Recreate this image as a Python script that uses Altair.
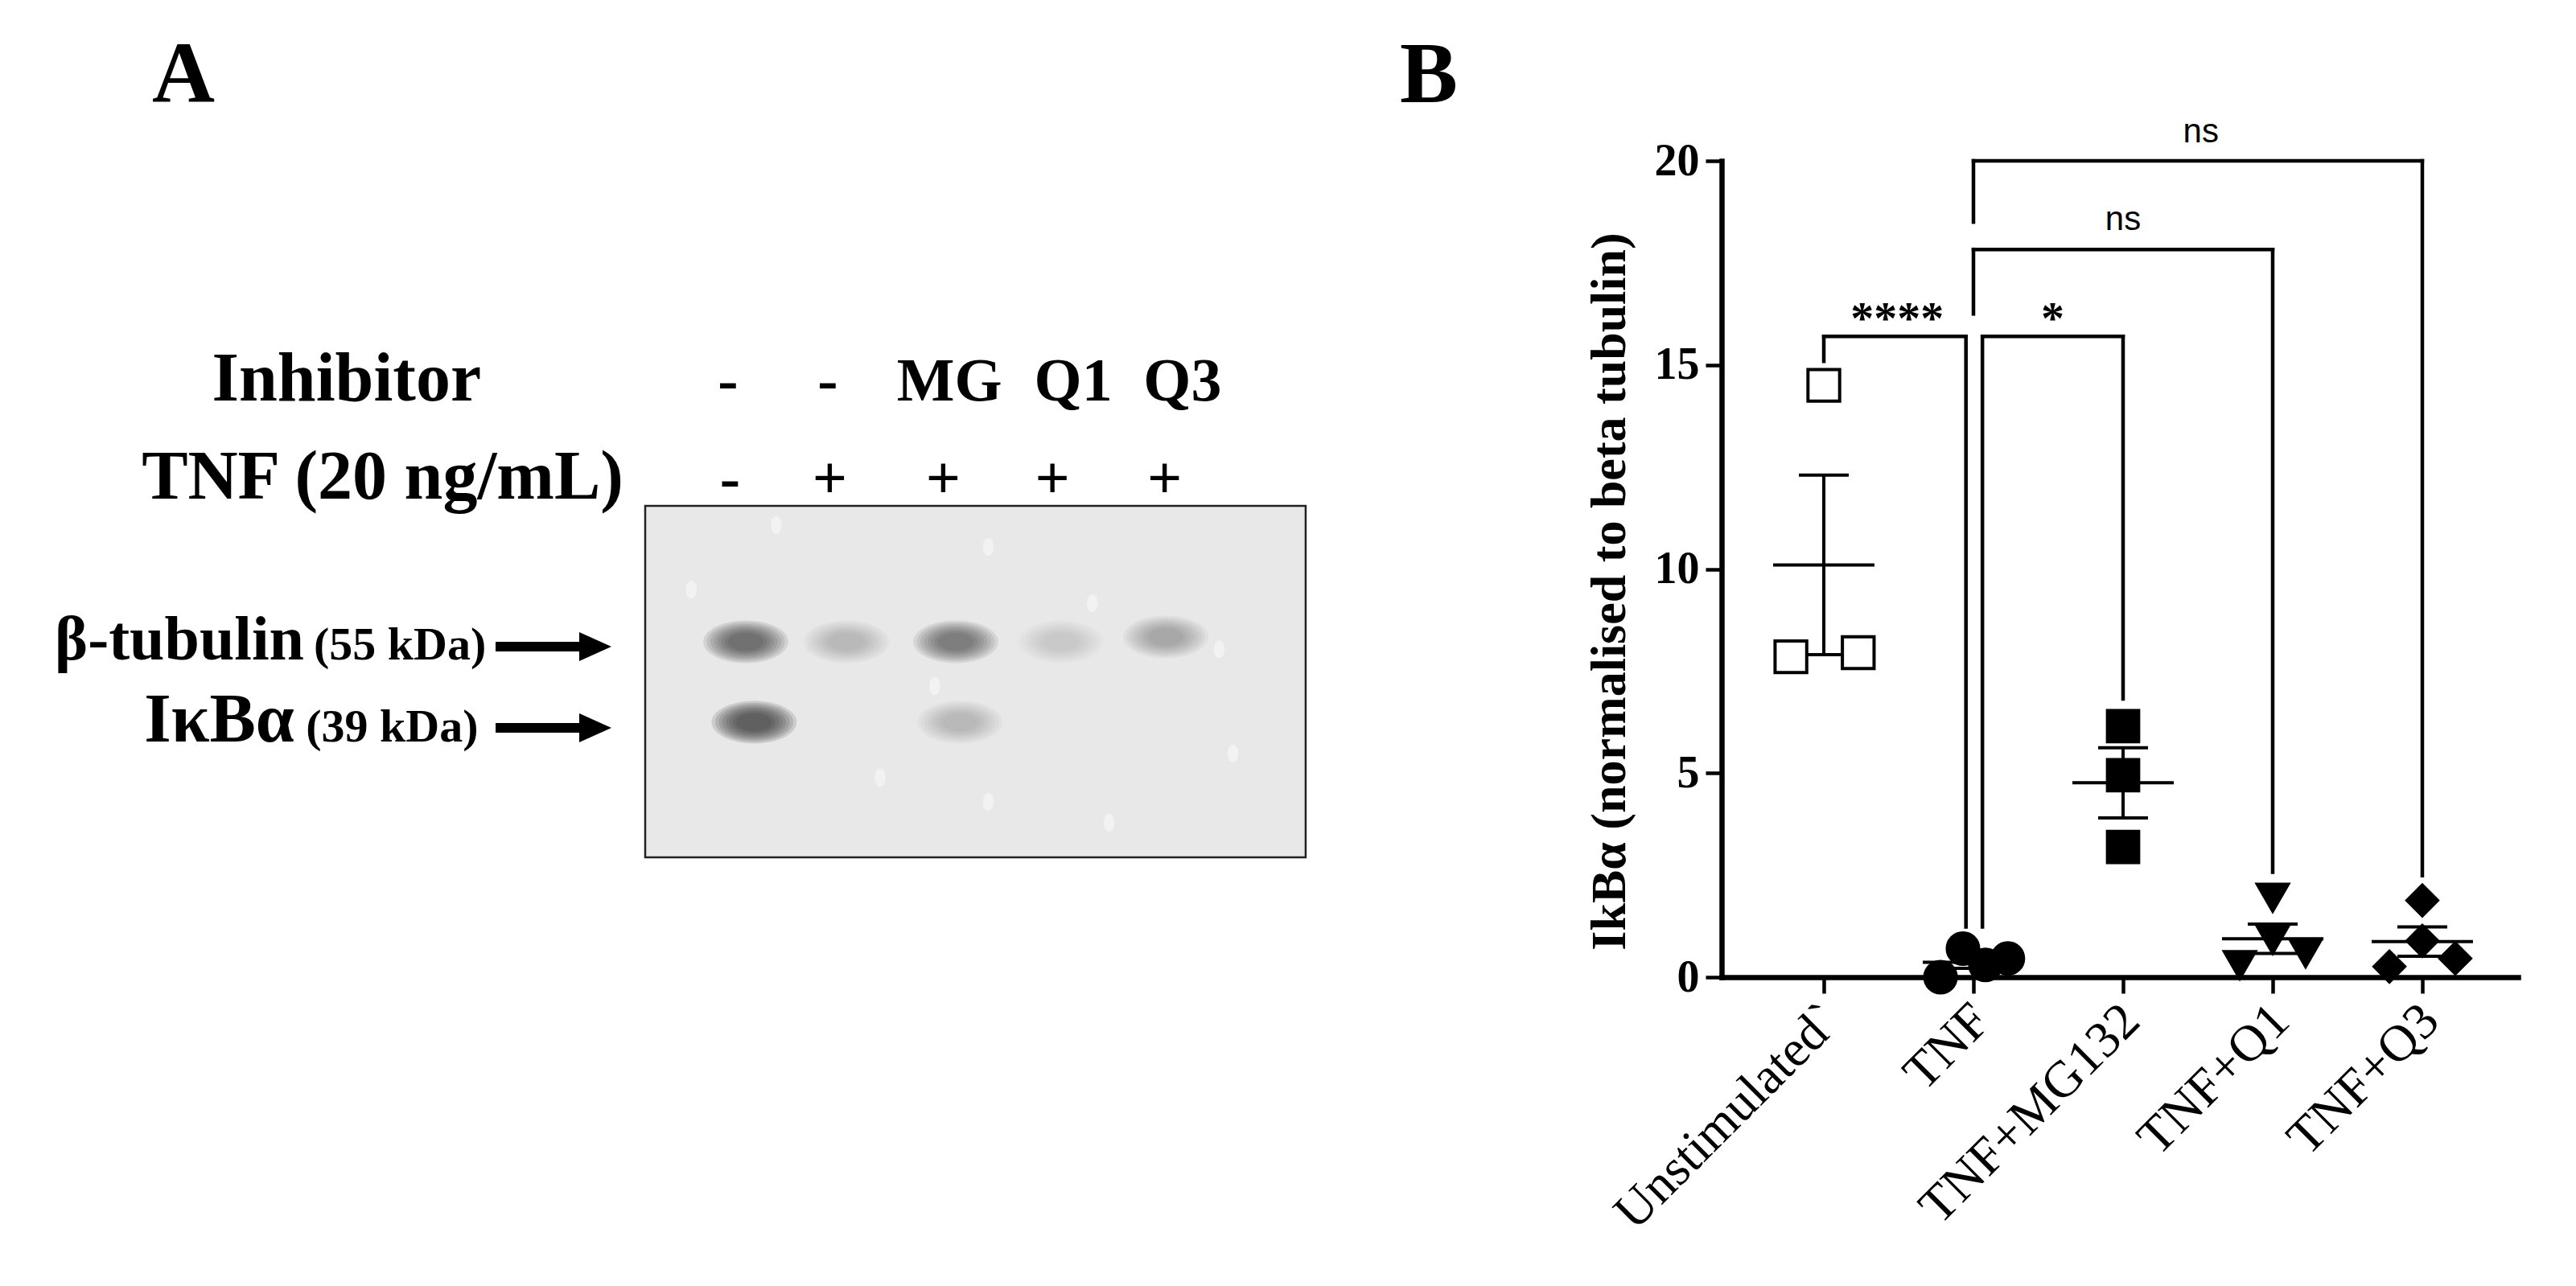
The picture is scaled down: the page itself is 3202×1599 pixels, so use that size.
import json
import altair as alt
import pandas as pd

SERIF = "Liberation Serif"
SANS = "Liberation Sans"

# ======================= Panel B data =======================
groups = ["Unstimulated`", "TNF", "TNF+MG132", "TNF+Q1", "TNF+Q3"]
unstim_vals = [14.5, 7.85, 7.95]
tnf_vals = [0.0, 0.70, 0.30, 0.46]
mg132_vals = [6.15, 4.95, 3.19]
q1_vals = [1.95, 0.92, 0.59, 0.30]
q3_vals = [1.88, 0.89, 0.26, 0.46]
# horizontal spread of the dots inside each column (in column units)
unstim_spread = [0.0, -0.22, 0.23]
tnf_spread = [-0.22, -0.07, 0.08, 0.23]
mg132_spread = [0.0, 0.0, 0.0]
q1_spread = [0.0, 0.0, 0.22, -0.22]
q3_spread = [0.0, 0.0, -0.22, 0.22]
y_ticks = [0, 5, 10, 15, 20]

# significance brackets
br_left = [0.0, 1.06, 1.0, 1.0]
br_right = [0.95, 2.0, 3.0, 4.0]
br_level = [15.7, 15.7, 17.83, 20.0]
br_left_end = [15.09, 1.23, 16.25, 18.5]
br_right_end = [1.23, 6.82, 2.57, 2.49]
br_label = ["****", "*", "ns", "ns"]
br_label_x = [0.49, 1.53, 2.0, 2.52]
br_label_y = [15.76, 15.76, 18.31, 20.46]

# ======================= Panel A data =======================
lane_inhibitor = ["-", "-", "MG", "Q1", "Q3"]
lane_inhibitor_x = [0.83, 1.78, 2.94, 4.12, 5.16]
lane_tnf = ["-", "+", "+", "+", "+"]
lane_tnf_x = [0.85, 1.80, 2.88, 3.92, 4.99]
row_heads = ["Inhibitor", "TNF (20 ng/mL)"]
row_heads_x = [-1.52, -0.165]
row_heads_y = [-2.0, -0.78]
lane_row_y = [-2.0, -0.78]

band_lane = [1.0, 1.96, 3.0, 4.0, 5.0, 1.08, 3.04]
band_row = [1.0, 1.0, 1.0, 1.0, 0.94, 2.0, 2.0]
band_dark = [0.62, 0.26, 0.55, 0.16, 0.33, 0.72, 0.24]

speck_lane = [1.29, 3.31, 0.48, 4.30, 5.51, 2.80, 5.64, 3.31, 4.46, 2.28]
speck_row = [-0.45, -0.18, 0.35, 0.52, 1.09, 1.55, 2.39, 2.99, 3.25, 2.69]

blot_lane = [0.042, 6.333]
blot_row = [-0.69, 3.68]

protein_names = ["β-tubulin", "IκBα"]
protein_x = [-3.207, -3.30]
protein_y = [1.22, 2.24]
kda_labels = ["(55 kDa)", "(39 kDa)"]
kda_x = [-3.115, -3.19]
arrow_row = [1.06, 2.07]
arrow_from = [-1.383, -1.383]
arrow_to = [-0.56, -0.56]
arrow_head = [-0.433, -0.433]

panel_a_label = ("A", -4.356, -5.71)
panel_b_label = ("B", -2.64, 21.44)

# ======================= Panel A =======================
xA = alt.Scale(domain=[1, 5], range=[-1213, -691], nice=False, zero=False)
yA = alt.Scale(domain=[1, 2], range=[598, 698], nice=False, zero=False)


def ax(field="x"):
    return alt.X(f"{field}:Q", scale=xA, axis=None)


def ay(field="y"):
    return alt.Y(f"{field}:Q", scale=yA, axis=None)


blot_df = pd.DataFrame({"x": [blot_lane[0]], "x2": [blot_lane[1]],
                        "y": [blot_row[0]], "y2": [blot_row[1]]})
blot = alt.Chart(blot_df).mark_rect(fill="#e8e8e8", stroke="#222222", strokeWidth=2.5).encode(
    x=ax(), x2="x2:Q", y=ay(), y2="y2:Q")

ELLIPSE = "M -1 0 A 1 0.5 0 1 1 1 0 A 1 0.5 0 1 1 -1 0 Z"
SPECK = "M 0 -1 A 0.6 1 0 1 1 0 1 A 0.6 1 0 1 1 0 -1 Z"
bands_df = pd.DataFrame({"x": band_lane, "y": band_row, "d": band_dark})
band_scales = [1.08, 0.99, 0.90, 0.81, 0.72, 0.63, 0.54, 0.45]
band_layers = []
for f in band_scales:
    band_layers.append(
        alt.Chart(bands_df).transform_calculate(a="1 - pow(1 - datum.d, 0.125)")
        .mark_point(shape=ELLIPSE, filled=True, color="#2e2e2e", strokeWidth=0, size=(98 * f) ** 2)
        .encode(x=ax(), y=ay(), opacity=alt.Opacity("a:Q", scale=None))
    )

specks = alt.Chart(pd.DataFrame({"x": speck_lane, "y": speck_row})).mark_point(
    shape=SPECK, filled=True, color="white", opacity=0.45, strokeWidth=0, size=500
).encode(x=ax(), y=ay())


def text_layer(df, sx, sy, **kw):
    return alt.Chart(df).mark_text(**kw).encode(x=sx, y=sy, text="t:N")


lane_df = pd.DataFrame({
    "t": lane_inhibitor + lane_tnf,
    "x": lane_inhibitor_x + lane_tnf_x,
    "y": [lane_row_y[0]] * 5 + [lane_row_y[1]] * 5,
})
lane_txt = text_layer(lane_df, ax(), ay(), font=SERIF, fontWeight="bold", fontSize=76,
                      align="center", baseline="alphabetic", color="black")
head_txt = text_layer(pd.DataFrame({"t": row_heads, "x": row_heads_x, "y": row_heads_y}), ax(), ay(),
                      font=SERIF, fontWeight="bold", fontSize=86, align="right",
                      baseline="alphabetic", color="black")
prot_txt1 = text_layer(pd.DataFrame({"t": protein_names[:1], "x": protein_x[:1], "y": protein_y[:1]}),
                       ax(), ay(), font=SERIF, fontWeight="bold", fontSize=78, align="right",
                       baseline="alphabetic", color="black")
prot_txt2 = text_layer(pd.DataFrame({"t": protein_names[1:], "x": protein_x[1:], "y": protein_y[1:]}),
                       ax(), ay(), font=SERIF, fontWeight="bold", fontSize=86, align="right",
                       baseline="alphabetic", color="black")
kda_txt = text_layer(pd.DataFrame({"t": kda_labels, "x": kda_x, "y": protein_y}), ax(), ay(),
                     font=SERIF, fontWeight="bold", fontSize=58, align="left",
                     baseline="alphabetic", color="black")
a_txt = text_layer(pd.DataFrame({"t": [panel_a_label[0]], "x": [panel_a_label[1]], "y": [panel_a_label[2]]}),
                   ax(), ay(), font=SERIF, fontWeight="bold", fontSize=108, align="center",
                   baseline="alphabetic", color="black")

arrow_df = pd.DataFrame({"x": arrow_from, "x2": arrow_to, "y": arrow_row, "h": arrow_head})
arrow_shaft = alt.Chart(arrow_df).mark_rule(color="black", strokeWidth=12).encode(
    x=ax(), x2="x2:Q", y=ay())
arrow_tip = alt.Chart(arrow_df).mark_point(
    shape="M -1 -0.9 L 1 0 L -1 0.9 Z", filled=True, color="black", opacity=1, size=1600, strokeWidth=0
).encode(x=ax("h"), y=ay())

layersA = [blot, *band_layers, specks, lane_txt, head_txt, prot_txt1, prot_txt2, kda_txt,
           arrow_shaft, arrow_tip, a_txt]

# ======================= Panel B =======================
xB = alt.Scale(domain=[-0.683, 4.64], nice=False, zero=False)
yB = alt.Scale(domain=[0, 20], nice=False, zero=False)

x_axis = alt.Axis(
    values=[0, 1, 2, 3, 4], labelExpr=json.dumps(groups) + "[datum.value]", orient="bottom",
    title=None, grid=False, domainColor="black", domainWidth=6.5, domainCap="square",
    tickColor="black", tickWidth=4.5, tickSize=20, labelAngle=-45, labelAlign="right",
    labelBaseline="middle", labelFont=SERIF, labelFontSize=64, labelColor="black",
    labelPadding=24, labelOffset=10, labelOverlap=False, labelFlush=False, labelLimit=2000)
y_axis = alt.Axis(
    values=y_ticks, orient="left", title="IkBα (normalised to beta tubulin)", grid=False,
    domainColor="black", domainWidth=6.5, domainCap="square", tickColor="black", tickWidth=4.5,
    tickSize=20, labelFont=SERIF, labelFontSize=56, labelFontWeight="bold", labelColor="black",
    labelPadding=8, labelFlush=False, labelOverlap=False, labelLimit=2000,
    titleFont=SERIF, titleFontSize=62, titleFontWeight="bold", titleColor="black",
    titlePadding=24, titleLimit=3000, titleY=535)


def bx(field="x", axis=None):
    return alt.X(f"{field}:Q", scale=xB, axis=axis)


def by(field="y", axis=None):
    return alt.Y(f"{field}:Q", scale=yB, axis=axis)


all_vals = [unstim_vals, tnf_vals, mg132_vals, q1_vals, q3_vals]
all_spread = [unstim_spread, tnf_spread, mg132_spread, q1_spread, q3_spread]
rows = []
for gi, (vals, spr) in enumerate(zip(all_vals, all_spread)):
    for v, s in zip(vals, spr):
        rows.append({"g": groups[gi], "gi": gi, "y": v, "s": s})
pts_df = pd.DataFrame(rows)

stats = alt.Chart(pts_df).transform_aggregate(
    m="mean(y)", se="stderr(y)", groupby=["gi"]
).transform_calculate(lo="datum.m - datum.se", hi="datum.m + datum.se", x="datum.gi")

err_rule = stats.mark_rule(color="black", strokeWidth=4).encode(x=bx(), y=by("lo"), y2="hi:Q")
cap_lo = stats.mark_tick(orient="horizontal", color="black", size=62, thickness=4, opacity=1).encode(
    x=bx(), y=by("lo"))
cap_hi = stats.mark_tick(orient="horizontal", color="black", size=62, thickness=4, opacity=1).encode(
    x=bx(), y=by("hi"))
mean_tick = stats.mark_tick(orient="horizontal", color="black", size=126, thickness=4, opacity=1).encode(
    x=bx(), y=by("m"))

points = alt.Chart(pts_df).transform_calculate(x="datum.gi + datum.s").mark_point(
    filled=True, opacity=1, stroke="black", strokeWidth=4
).encode(
    x=bx(axis=x_axis), y=by(axis=y_axis),
    shape=alt.Shape("g:N", scale=alt.Scale(domain=groups, range=["square", "circle", "square",
                                                                  "triangle-down", "diamond"]),
                    legend=None),
    fill=alt.Fill("g:N", scale=alt.Scale(domain=groups, range=["white", "black", "black", "black", "black"]),
                  legend=None),
    size=alt.Size("g:N", scale=alt.Scale(domain=groups, range=[1550, 1444, 1600, 1850, 1560]), legend=None),
)

h_df = pd.DataFrame({"x": br_left, "x2": br_right, "y": br_level})
v_df = pd.DataFrame({"x": br_left + br_right, "y": br_level + br_level, "y2": br_left_end + br_right_end})
br_h = alt.Chart(h_df).mark_rule(color="black", strokeWidth=4.5, strokeCap="square").encode(
    x=bx(), x2="x2:Q", y=by())
br_v = alt.Chart(v_df).mark_rule(color="black", strokeWidth=4.5, strokeCap="square").encode(
    x=bx(), y=by(), y2="y2:Q")

lab_df = pd.DataFrame({"t": br_label, "x": br_label_x, "y": br_label_y})
star_txt = alt.Chart(lab_df).transform_filter("datum.t != 'ns'").mark_text(
    font=SERIF, fontWeight="bold", fontSize=58, align="center", baseline="alphabetic", color="black"
).encode(x=bx(), y=by(), text="t:N")
ns_txt = alt.Chart(lab_df).transform_filter("datum.t == 'ns'").mark_text(
    font=SANS, fontSize=42, align="center", baseline="alphabetic", color="black"
).encode(x=bx(), y=by(), text="t:N")
b_txt = alt.Chart(pd.DataFrame({"t": [panel_b_label[0]], "x": [panel_b_label[1]], "y": [panel_b_label[2]]})
                  ).mark_text(font=SERIF, fontWeight="bold", fontSize=108, align="center",
                              baseline="alphabetic", color="black").encode(x=bx(), y=by(), text="t:N")

layersB = [br_h, br_v, err_rule, cap_lo, cap_hi, mean_tick, points, star_txt, ns_txt, b_txt]

chart = alt.layer(*layersA, *layersB).resolve_scale(
    x="independent", y="independent"
).properties(
    width=990, height=1015,
    autosize=alt.AutoSizeParams(type="none"),
    padding={"left": 2132, "top": 192, "right": 64, "bottom": 376},
    background="white",
).configure_view(stroke=None)

chart.save("out.html", embed_options={"renderer": "svg", "actions": False})
